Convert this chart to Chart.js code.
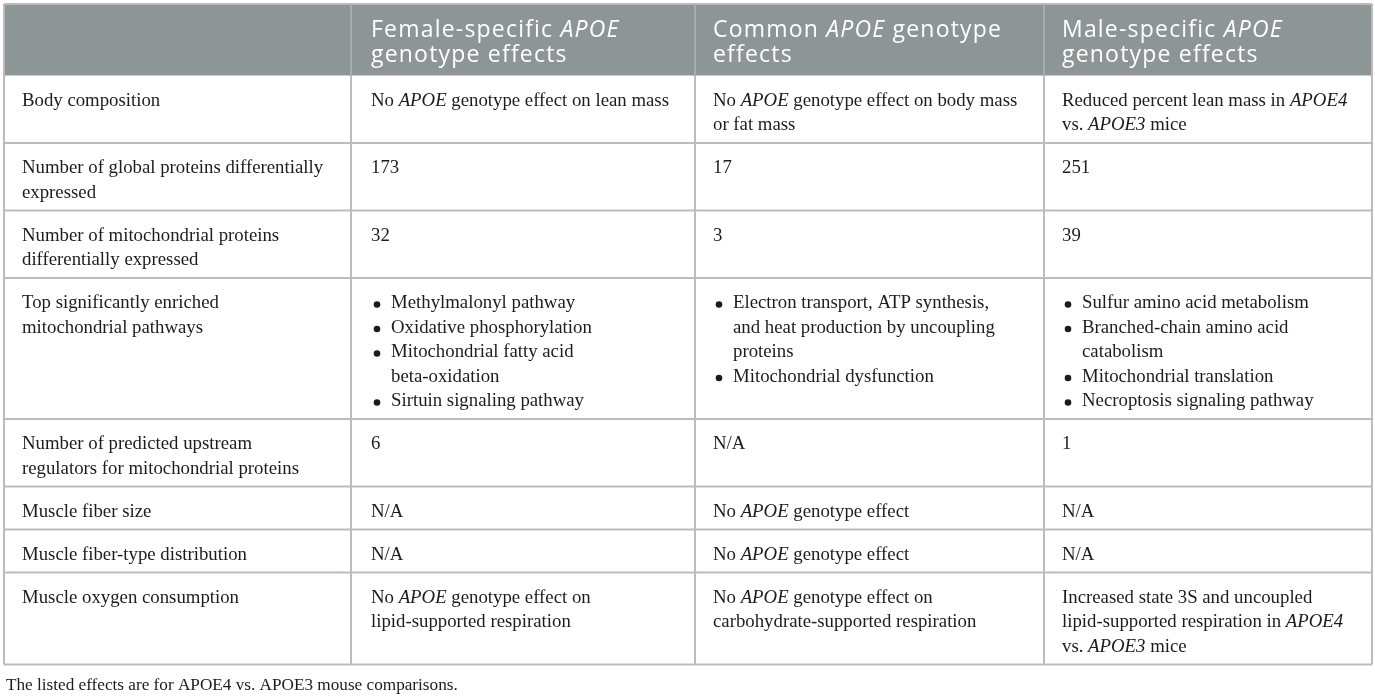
<!DOCTYPE html>
<html>
<head>
<meta charset="utf-8">
<script src="https://cdn.jsdelivr.net/npm/chart.js@4.4.1/dist/chart.umd.min.js"></script>
<style>
  html, body { margin: 0; padding: 0; background: #ffffff; overflow: hidden; }
  #wrap { width: 1375px; height: 698px; position: relative; }
</style>
</head>
<body>
<div id="wrap"><canvas id="chart"></canvas></div>
<script>
// table content (text in *...* is italic, \n is a line break)
const columnHeaders = [
  '',
  'Female-specific *APOE*\ngenotype effects',
  'Common *APOE* genotype\neffects',
  'Male-specific *APOE*\ngenotype effects'
];

const rowLabels = [
  'Body composition',
  'Number of global proteins differentially\nexpressed',
  'Number of mitochondrial proteins\ndifferentially expressed',
  'Top significantly enriched\nmitochondrial pathways',
  'Number of predicted upstream\nregulators for mitochondrial proteins',
  'Muscle fiber size',
  'Muscle fiber-type distribution',
  'Muscle oxygen consumption'
];

const femaleEffects = [
  'No *APOE* genotype effect on lean mass',
  '173',
  '32',
  ['Methylmalonyl pathway', 'Oxidative phosphorylation', 'Mitochondrial fatty acid\nbeta-oxidation', 'Sirtuin signaling pathway'],
  '6',
  'N/A',
  'N/A',
  'No *APOE* genotype effect on\nlipid-supported respiration'
];

const commonEffects = [
  'No *APOE* genotype effect on body mass\nor fat mass',
  '17',
  '3',
  ['Electron transport, ATP synthesis,\nand heat production by uncoupling\nproteins', 'Mitochondrial dysfunction'],
  'N/A',
  'No *APOE* genotype effect',
  'No *APOE* genotype effect',
  'No *APOE* genotype effect on\ncarbohydrate-supported respiration'
];

const maleEffects = [
  'Reduced percent lean mass in *APOE4*\nvs. *APOE3* mice',
  '251',
  '39',
  ['Sulfur amino acid metabolism', 'Branched-chain amino acid\ncatabolism', 'Mitochondrial translation', 'Necroptosis signaling pathway'],
  '1',
  'N/A',
  'N/A',
  'Increased state 3S and uncoupled\nlipid-supported respiration in *APOE4*\nvs. *APOE3* mice'
];

const footnote = 'The listed effects are for APOE4 vs. APOE3 mouse comparisons.';

// layout (pixel units on the hidden linear scales)
const layout = {
  colEdges: [4, 351, 695, 1044, 1372],
  top: 4,
  headerHeight: 71.5,
  headerLine: 25,
  headerFirst: 26.5,
  padX: [18, 20, 18, 18],
  rowPad: 18.5,
  lineHeight: 24.5,
  firstLine: 25.5,
  bulletX: 6,
  bulletIndent: 20,
  footY: 685,
  footX: 6
};

const style = {
  headerBg: '#8e9597',
  headerText: '#ffffff',
  grid: '#b9bdbe',
  text: '#1c1c1c',
  bodyFont: '"Liberation Serif", "Times New Roman", serif',
  bodySize: 18.8,
  headFont: '"Open Sans", "Noto Sans", sans-serif',
  headSize: 23,
  headSpacing: '1.2px'
};

function cellLines(cell) {
  // returns [{text, bullet, indent}] line list
  const out = [];
  if (Array.isArray(cell)) {
    cell.forEach(item => {
      item.split('\n').forEach((ln, i) => out.push({ text: ln, bullet: i === 0, indent: true }));
    });
  } else {
    cell.split('\n').forEach(ln => out.push({ text: ln, bullet: false, indent: false }));
  }
  return out;
}

function drawRich(ctx, text, x, y, family, size) {
  const parts = text.split('*');
  let cx = x;
  parts.forEach((p, i) => {
    if (!p) return;
    ctx.font = (i % 2 === 1 ? 'italic ' : '') + size + 'px ' + family;
    ctx.fillText(p, cx, y);
    cx += ctx.measureText(p).width;
  });
}

const tablePlugin = {
  id: 'tablePlugin',
  afterDraw(chart) {
    const ctx = chart.ctx;
    const xs = chart.scales.x;
    const ys = chart.scales.y;
    const px = v => xs.getPixelForValue(v);
    const py = v => ys.getPixelForValue(v);
    const edges = layout.colEdges;
    const columns = [rowLabels, femaleEffects, commonEffects, maleEffects];

    // row boundaries from the number of text lines in each row
    const bounds = [layout.top, layout.top + layout.headerHeight];
    rowLabels.forEach((_, r) => {
      const n = Math.max(...columns.map(col => cellLines(col[r]).length));
      bounds.push(bounds[bounds.length - 1] + layout.rowPad + layout.lineHeight * n);
    });

    ctx.save();
    // header background
    ctx.fillStyle = style.headerBg;
    ctx.fillRect(px(edges[0]), py(bounds[0]), px(edges[4]) - px(edges[0]), py(bounds[1]) - py(bounds[0]));

    // header text
    ctx.fillStyle = style.headerText;
    ctx.textBaseline = 'middle';
    ctx.letterSpacing = style.headSpacing;
    columnHeaders.forEach((h, c) => {
      h.split('\n').forEach((ln, i) => {
        drawRich(ctx, ln, px(edges[c] + layout.padX[c]), py(bounds[0] + layout.headerFirst + i * layout.headerLine),
          style.headFont, style.headSize);
      });
    });
    ctx.letterSpacing = '0px';

    // body text
    ctx.fillStyle = style.text;
    columns.forEach((col, c) => {
      col.forEach((cell, r) => {
        const lines = cellLines(cell);
        lines.forEach((ln, i) => {
          const y = bounds[r + 1] + layout.firstLine + i * layout.lineHeight;
          let x = edges[c] + layout.padX[c];
          if (ln.indent) {
            if (ln.bullet) {
              ctx.beginPath();
              ctx.arc(px(x + layout.bulletX), py(y + 1), 3.3, 0, Math.PI * 2);
              ctx.fill();
            }
            x += layout.bulletIndent;
          }
          drawRich(ctx, ln.text, px(x), py(y), style.bodyFont, style.bodySize);
        });
      });
    });

    // grid lines
    ctx.strokeStyle = style.grid;
    ctx.lineWidth = 2;
    ctx.beginPath();
    bounds.forEach((b, i) => {
      if (i === 1) return;
      ctx.moveTo(px(edges[0]), py(b));
      ctx.lineTo(px(edges[4]), py(b));
    });
    edges.forEach(e => {
      ctx.moveTo(px(e), py(bounds[0]));
      ctx.lineTo(px(e), py(bounds[bounds.length - 1]));
    });
    ctx.stroke();
    // header column dividers are a lighter tone on the gray fill
    ctx.strokeStyle = '#a3a9ab';
    ctx.lineWidth = 1.5;
    ctx.beginPath();
    for (let i = 1; i < 4; i++) {
      ctx.moveTo(px(edges[i]), py(bounds[0]));
      ctx.lineTo(px(edges[i]), py(bounds[1]));
    }
    ctx.stroke();

    // footnote
    ctx.fillStyle = style.text;
    drawRich(ctx, footnote, px(layout.footX), py(layout.footY), style.bodyFont, 17.2);
    ctx.restore();
  }
};

new Chart(document.getElementById('chart'), {
  type: 'scatter',
  data: { datasets: [{ data: [] }] },
  options: {
    responsive: true,
    maintainAspectRatio: false,
    animation: false,
    devicePixelRatio: 1,
    layout: { padding: 0 },
    plugins: { legend: { display: false }, tooltip: { enabled: false } },
    scales: {
      x: { type: 'linear', min: 0, max: 1375, display: false },
      y: { type: 'linear', min: 0, max: 698, reverse: true, display: false }
    }
  },
  plugins: [tablePlugin]
});
</script>
</body>
</html>
